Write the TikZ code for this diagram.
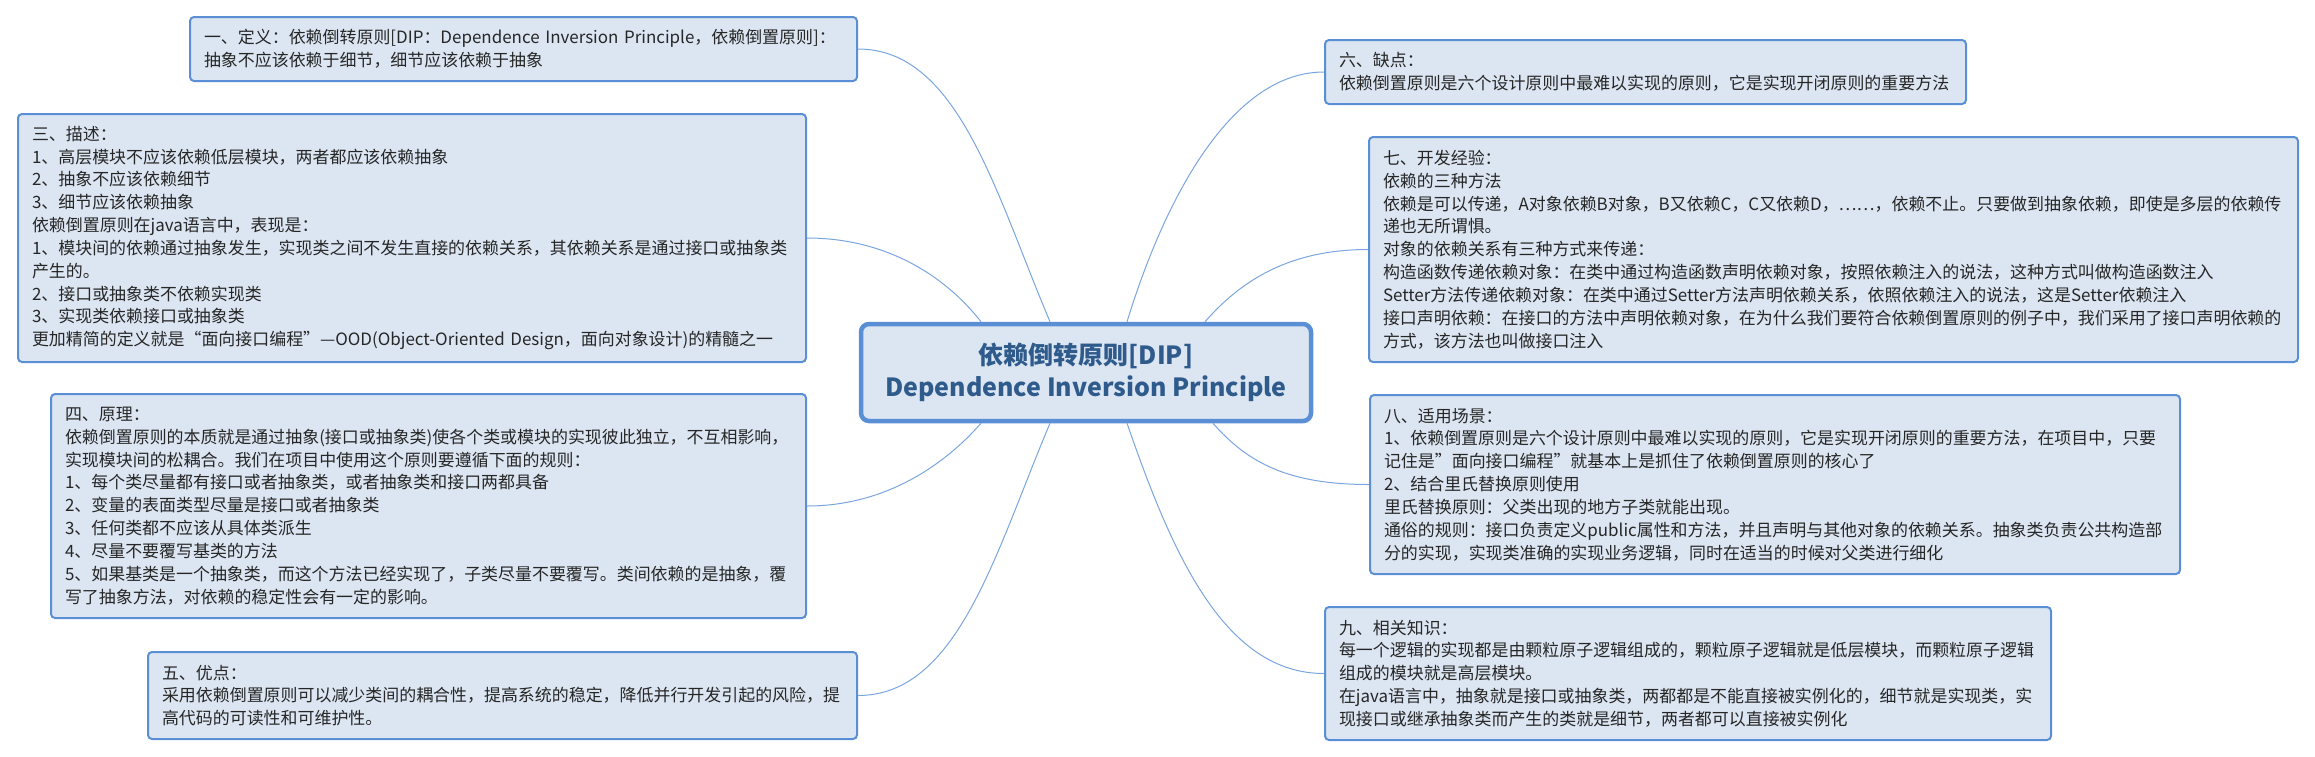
\documentclass[tikz,border=0pt]{standalone}
\usepackage{fontspec}
\setmainfont{Noto Sans CJK SC}
\usetikzlibrary{calc}
\hyphenpenalty=10000
\exhyphenpenalty=10000
\definecolor{boxfill}{HTML}{DCE6F2}
\definecolor{boxline}{HTML}{5B8FD5}
\definecolor{linkc}{HTML}{7AA5DE}
\definecolor{maintext}{HTML}{2F5B8C}
\definecolor{txt}{HTML}{262626}
\begin{document}
\begin{tikzpicture}[x=1pt,y=-1pt,
  topicbox/.style={draw=boxline, fill=boxfill, line width=2pt, rounded corners=4pt,
    anchor=north west, inner xsep=14pt, inner ysep=0pt, align=left, text=txt,
    font=\fontsize{16.95}{22.85}\selectfont},
  mainbox/.style={draw=boxline, fill=boxfill, line width=4.5pt, rounded corners=8pt,
    align=center, text=maintext, minimum width=450pt, minimum height=97pt,
    font=\fontsize{25}{32}\selectfont\bfseries},
  link/.style={draw=linkc, line width=1pt}]
\useasboundingbox (0,0) rectangle (2315,756);

\node[mainbox] (c) at (1086,372.5) {依赖倒转原则[DIP]\\Dependence Inversion Principle};

\node[topicbox, minimum height=64pt, text width=639pt] (b1) at (189,16) {一、定义：依赖倒转原则[DIP：Dependence~Inversion~Principle，依赖倒置原则]：\\
抽象不应该依赖于细节，细节应该依赖于抽象};

\node[topicbox, minimum height=248pt, text width=760pt] (b3) at (17,113) {三、描述：\\
1、高层模块不应该依赖低层模块，两者都应该依赖抽象\\
2、抽象不应该依赖细节\\
3、细节应该依赖抽象\\
依赖倒置原则在java语言中，表现是：\\
1、模块间的依赖通过抽象发生，实现类之间不发生直接的依赖关系，其依赖关系是通过接口或抽象类\\
产生的。\\
2、接口或抽象类不依赖实现类\\
3、实现类依赖接口或抽象类\\
更加精简的定义就是“面向接口编程”—OOD(\mbox{Object-Oriented}~Design，面向对象设计)的精髓之一};

\node[topicbox, minimum height=224pt, text width=727pt] (b4) at (50,393) {四、原理：\\
依赖倒置原则的本质就是通过抽象(接口或抽象类)使各个类或模块的实现彼此独立，不互相影响，\\
实现模块间的松耦合。我们在项目中使用这个原则要遵循下面的规则：\\
1、每个类尽量都有接口或者抽象类，或者抽象类和接口两都具备\\
2、变量的表面类型尽量是接口或者抽象类\\
3、任何类都不应该从具体类派生\\
4、尽量不要覆写基类的方法\\
5、如果基类是一个抽象类，而这个方法已经实现了，子类尽量不要覆写。类间依赖的是抽象，覆\\
写了抽象方法，对依赖的稳定性会有一定的影响。};

\node[topicbox, minimum height=87pt, text width=681pt] (b5) at (147,651) {五、优点：\\
采用依赖倒置原则可以减少类间的耦合性，提高系统的稳定，降低并行开发引起的风险，提\\
高代码的可读性和可维护性。};

\node[topicbox, minimum height=64pt, text width=613pt] (b6) at (1324,39) {六、缺点：\\
依赖倒置原则是六个设计原则中最难以实现的原则，它是实现开闭原则的重要方法};

\node[topicbox, minimum height=225pt, text width=901pt] (b7) at (1368,136) {七、开发经验：\\
依赖的三种方法\\
依赖是可以传递，A对象依赖B对象，B又依赖C，C又依赖D，……，依赖不止。只要做到抽象依赖，即使是多层的依赖传\\
递也无所谓惧。\\
对象的依赖关系有三种方式来传递：\\
构造函数传递依赖对象：在类中通过构造函数声明依赖对象，按照依赖注入的说法，这种方式叫做构造函数注入\\
Setter方法传递依赖对象：在类中通过Setter方法声明依赖关系，依照依赖注入的说法，这是Setter依赖注入\\
接口声明依赖：在接口的方法中声明依赖对象，在为什么我们要符合依赖倒置原则的例子中，我们采用了接口声明依赖的\\
方式，该方法也叫做接口注入};

\node[topicbox, minimum height=179pt, text width=782pt] (b8) at (1369,394) {八、适用场景：\\
1、依赖倒置原则是六个设计原则中最难以实现的原则，它是实现开闭原则的重要方法，在项目中，只要\\
记住是”面向接口编程”就基本上是抓住了依赖倒置原则的核心了\\
2、结合里氏替换原则使用\\
里氏替换原则：父类出现的地方子类就能出现。\\
通俗的规则：接口负责定义public属性和方法，并且声明与其他对象的依赖关系。抽象类负责公共构造部\\
分的实现，实现类准确的实现业务逻辑，同时在适当的时候对父类进行细化};

\node[topicbox, minimum height=133pt, text width=698pt] (b9) at (1324,606) {九、相关知识：\\
每一个逻辑的实现都是由颗粒原子逻辑组成的，颗粒原子逻辑就是低层模块，而颗粒原子逻辑\\
组成的模块就是高层模块。\\
在java语言中，抽象就是接口或抽象类，两都都是不能直接被实例化的，细节就是实现类，实\\
现接口或继承抽象类而产生的类就是细节，两者都可以直接被实例化};

\coordinate (t1) at ($(c.north)+(-105,0)$);
\coordinate (t2) at ($(c.north)+(-36,0)$);
\coordinate (t3) at ($(c.north)+(41,0)$);
\coordinate (t4) at ($(c.north)+(119,0)$);
\coordinate (u1) at ($(c.south)+(-105,0)$);
\coordinate (u2) at ($(c.south)+(-36,0)$);
\coordinate (u3) at ($(c.south)+(41,0)$);
\coordinate (u4) at ($(c.south)+(127,0)$);

\draw[link] (b1.east) .. controls +(100,0) and +(-55,-130) .. (t2);
\draw[link] (b3.east) .. controls +(80,0) and +(-35,-45) .. (t1);
\draw[link] (b6.west) .. controls +(-90,0) and +(40,-130) .. (t3);
\draw[link] (b7.west) .. controls +(-80,0) and +(35,-40) .. (t4);
\draw[link] (b4.east) .. controls +(80,0) and +(-35,40) .. (u1);
\draw[link] (b5.east) .. controls +(100,0) and +(-55,130) .. (u2);
\draw[link] (b9.west) .. controls +(-100,0) and +(45,130) .. (u3);
\draw[link] (b8.west) .. controls +(-80,0) and +(35,40) .. (u4);
\end{tikzpicture}
\end{document}
